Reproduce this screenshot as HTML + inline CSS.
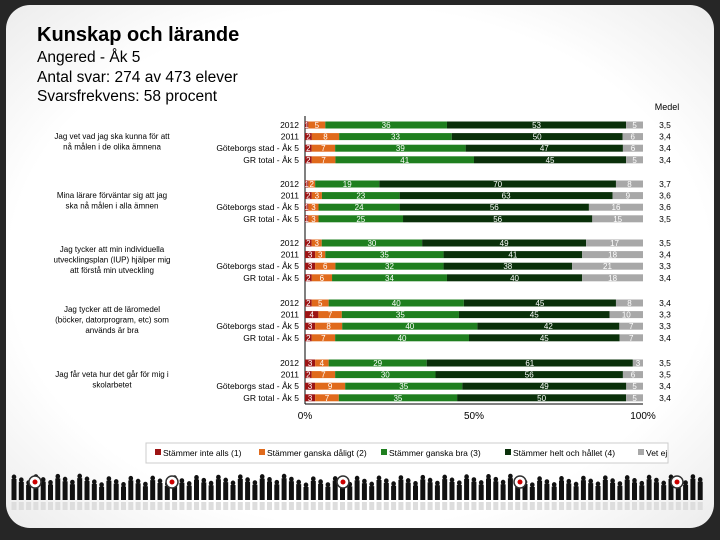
<!DOCTYPE html>
<html><head><meta charset="utf-8"><style>
body{margin:0;width:720px;height:540px;background:#262626;position:relative;overflow:hidden;font-family:"Liberation Sans",sans-serif}
#panel{position:absolute;left:6px;top:5px;width:708px;height:523px;border-radius:24px;background:radial-gradient(ellipse at center,#ffffff 70%,#ececec 100%)}
.t{position:absolute;left:37px;color:#000}
</style></head><body>
<div id="panel"></div>
<div class="t" style="top:24px;font-size:20px;font-weight:bold">Kunskap och lärande</div>
<div class="t" style="top:48px;font-size:15.5px;line-height:19.5px">Angered - Åk 5<br>Antal svar: 274 av 473 elever<br>Svarsfrekvens: 58 procent</div>
<svg id="chart" width="720" height="540" style="position:absolute;left:0;top:0"></svg>
<script>
const categories=["2012","2011","Göteborgs stad - Åk 5","GR total - Åk 5"];
const questions=["Jag vet vad jag ska kunna för att|nå målen i de olika ämnena","Mina lärare förväntar sig att jag|ska nå målen i alla ämnen","Jag tycker att min individuella|utvecklingsplan (IUP) hjälper mig|att förstå min utveckling","Jag tycker att de läromedel|(böcker, datorprogram, etc) som|används är bra","Jag får veta hur det går för mig i|skolarbetet"];
const q1=[[1,5,36,53,5],[2,8,33,50,6],[2,7,39,47,6],[2,7,41,45,5]];
const q2=[[1,2,19,70,8],[2,3,23,63,9],[1,3,24,56,16],[1,3,25,56,15]];
const q3=[[2,3,30,49,17],[3,3,35,41,18],[3,6,32,38,21],[2,6,34,40,18]];
const q4=[[2,5,40,45,8],[4,7,35,45,10],[3,8,40,42,7],[2,7,40,45,7]];
const q5=[[3,4,29,61,3],[2,7,30,56,6],[3,9,35,49,5],[3,7,35,50,5]];
const means=[["3,5","3,4","3,4","3,4"],["3,7","3,6","3,6","3,5"],["3,5","3,4","3,3","3,4"],["3,4","3,3","3,3","3,4"],["3,5","3,5","3,4","3,4"]];
const legendLabels=["Stämmer inte alls (1)","Stämmer ganska dåligt (2)","Stämmer ganska bra (3)","Stämmer helt och hållet (4)","Vet ej"];
const ticks=[0,50,100];
const colors=["#9c1414","#e06a1c","#1f7f1f","#0a300a","#a8a8a8"];
const svg=document.getElementById('chart');const NS="http://www.w3.org/2000/svg";
function mk(t,a,p){const e=document.createElementNS(NS,t);for(const k in a)e.setAttribute(k,a[k]);(p||svg).appendChild(e);return e}
const x0=305,x1=643;const xs=v=>x0+(x1-x0)*v/100;
const groupTop=[125,184,243,303,363],rowGap=11.6;
const ys=(g,r)=>groupTop[g]+r*rowGap;
const data=[q1,q2,q3,q4,q5];
mk('line',{x1:x0,y1:116,x2:x0,y2:404,stroke:'#000','stroke-width':1});
mk('line',{x1:x0,y1:404,x2:x1,y2:404,stroke:'#000','stroke-width':1});
ticks.forEach(t=>{const l=mk('text',{x:xs(t),y:419,'font-size':10,'text-anchor':'middle'});l.textContent=t+'%';});
const mh=mk('text',{x:667,y:110,'font-size':9,'text-anchor':'middle'});mh.textContent='Medel';
data.forEach((q,g)=>{
 const lines=questions[g].split('|');
 lines.forEach((s,i)=>{const t=mk('text',{x:112,y:groupTop[g]+14+i*10.5-(lines.length-2)*5,'font-size':8,'text-anchor':'middle'});t.textContent=s;});
 q.forEach((row,r)=>{const y=ys(g,r);
  const c=mk('text',{x:299,y:y+3,'font-size':8.5,'text-anchor':'end'});c.textContent=categories[r];
  let acc=0;const tot=row.reduce((a,b)=>a+b,0);
  row.forEach((v,k)=>{const a=xs(acc*100/tot),b=xs((acc+v)*100/tot);
   const rc=mk('rect',{x:a,y:y-3.5,width:b-a,height:7,fill:colors[k]});
   
   const tx=mk('text',{x:(a+b)/2,y:y+3,'font-size':8,'text-anchor':'middle',fill:'#fff'});tx.textContent=v;
   acc+=v;});
  const m=mk('text',{x:665,y:y+3,'font-size':8.5,'text-anchor':'middle'});m.textContent=means[g][r];
 });
});
const lb=mk('rect',{x:146,y:443,width:522,height:20,fill:'#fff',stroke:'#ccc'});
const lx=[160,264,386,510,643];
legendLabels.forEach((s,i)=>{mk('rect',{x:lx[i]-5,y:449,width:6,height:6,fill:colors[i]});const t=mk('text',{x:lx[i]+3,y:456,'font-size':8.5});t.textContent=s;});
for(let x=14;x<706;x+=7.3){const h=16+((x*7)%9);mk('ellipse',{cx:x,cy:498-h+3,rx:2.3,ry:2.5,fill:'#111'});mk('rect',{x:x-2.5,y:498-h+5,width:5,height:h-3,fill:'#111'});mk('rect',{x:x-2.5,y:502,width:5,height:8,fill:'#ddd'});}
[35,172,343,520,677].forEach(x=>{mk('circle',{cx:x,cy:482,r:6,fill:'#fff',stroke:'#333','stroke-width':1.5});mk('circle',{cx:x,cy:482,r:2.5,fill:'#c00'});});
</script>
</body></html>
